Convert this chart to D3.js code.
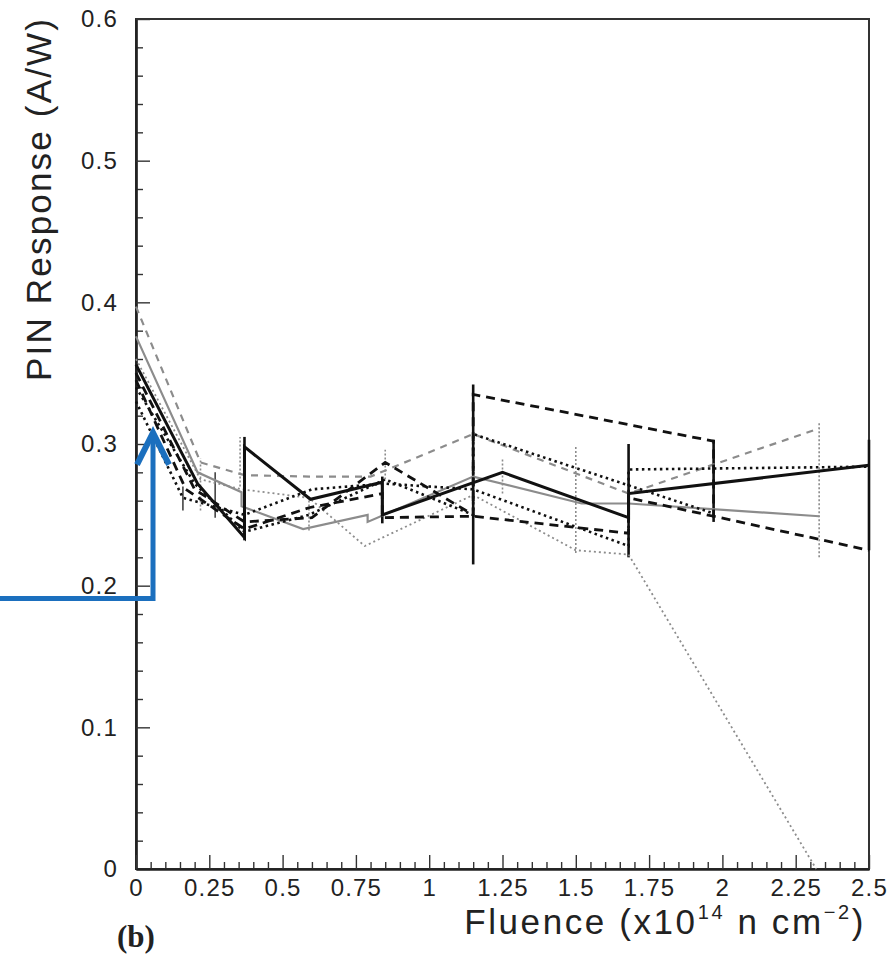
<!DOCTYPE html>
<html>
<head>
<meta charset="utf-8">
<script src="https://cdn.jsdelivr.net/npm/d3@7"></script>
<style>
  html, body { margin: 0; padding: 0; background: #fff; }
  svg { display: block; }
  text { font-family: "Liberation Sans", Arial, sans-serif; fill: #222; }
</style>
</head>
<body>
<svg id="chart" width="892" height="959"></svg>
<script>
// Axis ticks
const xMajorTicks = [0, 0.25, 0.5, 0.75, 1, 1.25, 1.5, 1.75, 2, 2.25, 2.5];
const xTickLabels = ["0", "0.25", "0.5", "0.75", "1", "1.25", "1.5", "1.75", "2", "2.25", "2.5"];
const yMajorTicks = [0, 0.1, 0.2, 0.3, 0.4, 0.5, 0.6];
const yTickLabels = ["0", "0.1", "0.2", "0.3", "0.4", "0.5", "0.6"];

// PIN response (A/W) versus fluence (x10^14 n/cm^2), one array per diode trace
const solidBlack = [[0,0.356],[0.21,0.272],[0.37,0.234],[0.37,0.298],[0.595,0.261],[0.84,0.273],[0.84,0.25],[1.25,0.28],[1.68,0.248],[1.68,0.265],[2.5,0.285]];
const solidGray  = [[0,0.376],[0.21,0.28],[0.36,0.266],[0.36,0.256],[0.57,0.24],[0.79,0.25],[0.79,0.245],[1.15,0.277],[1.52,0.258],[1.68,0.258],[2.33,0.249]];
const dashGray   = [[0,0.397],[0.22,0.287],[0.37,0.278],[0.59,0.277],[0.8,0.277],[1.15,0.307],[1.68,0.265],[2.33,0.311]];
const dashBlackA = [[0,0.35],[0.2,0.268],[0.37,0.245],[0.6,0.248],[0.85,0.287],[1.15,0.25],[1.15,0.335],[1.97,0.302],[1.97,0.249],[2.5,0.225]];
const dashBlackB = [[0,0.345],[0.17,0.268],[0.37,0.24],[0.59,0.255],[0.84,0.265],[0.84,0.248],[1.15,0.249],[1.68,0.237],[1.68,0.262],[1.97,0.249]];
const dotBlackA  = [[0,0.34],[0.2,0.272],[0.37,0.238],[0.59,0.25],[0.85,0.275],[1.15,0.25],[1.15,0.307],[1.97,0.251]];
const dotBlackB  = [[0,0.33],[0.16,0.262],[0.37,0.25],[0.6,0.268],[0.85,0.272],[1.15,0.268],[1.68,0.228],[1.68,0.282],[2.5,0.284]];
const dotGray    = [[0,0.36],[0.22,0.275],[0.36,0.268],[0.59,0.262],[0.78,0.228],[1.15,0.264],[1.5,0.225],[1.68,0.222],[2.32,0]];

// Error bars: [fluence, low, high]
const errorBarsBlack = [[0.37,0.232,0.305],[0.84,0.244,0.277],[1.15,0.215,0.342],[1.68,0.22,0.3],[1.97,0.245,0.303],[2.5,0.225,0.303]];
const errorBarsThin  = [[0.16,0.253,0.27],[0.27,0.248,0.28]];
const errorBarsGray  = [[0.22,0.253,0.29],[0.355,0.27,0.305],[0.59,0.239,0.263],[0.85,0.275,0.296],[1.25,0.265,0.29],[1.5,0.223,0.298],[2.33,0.22,0.316]];

// Annotation arrow: corner point and tip (data units), tail runs to the page edge
const arrowCorner = [0.058, 0.191];
const arrowTip = [0.058, 0.308];

const svg = d3.select("#chart");
const plotLeft = 136, plotRight = 869, plotTop = 19, plotBottom = 869;
const x = d3.scaleLinear().domain([0, 2.5]).range([plotLeft, plotRight]);
const y = d3.scaleLinear().domain([0, 0.6]).range([plotBottom, plotTop]);

const styles = [
  { data: dotGray,    stroke: "#8c8c8c", width: 1.8, dash: "2,3" },
  { data: solidGray,  stroke: "#8c8c8c", width: 2.2, dash: null },
  { data: dashGray,   stroke: "#8c8c8c", width: 2.2, dash: "7,6" },
  { data: dotBlackB,  stroke: "#111",    width: 2.6, dash: "2.5,3.5" },
  { data: dotBlackA,  stroke: "#111",    width: 2.6, dash: "2.5,3.5" },
  { data: dashBlackB, stroke: "#111",    width: 2.8, dash: "9,6" },
  { data: dashBlackA, stroke: "#111",    width: 2.8, dash: "9,6" },
  { data: solidBlack, stroke: "#111",    width: 3,   dash: null }
];

// Frame
svg.append("rect")
  .attr("x", plotLeft).attr("y", plotTop)
  .attr("width", plotRight - plotLeft).attr("height", plotBottom - plotTop)
  .attr("fill", "none").attr("stroke", "#333").attr("stroke-width", 2);

// Left axis: major ticks with labels, minor ticks every 0.02
const yMinor = d3.range(0, 0.6001, 0.02).filter(v => Math.abs(v * 10 - Math.round(v * 10)) > 1e-6);
const gyMinor = svg.append("g").attr("transform", `translate(${plotLeft},0)`)
  .call(d3.axisLeft(y).tickValues(yMinor).tickSize(-7).tickSizeOuter(0).tickFormat(""));
const gy = svg.append("g").attr("transform", `translate(${plotLeft},0)`)
  .call(d3.axisLeft(y).tickValues(yMajorTicks).tickSize(-14).tickSizeOuter(0).tickPadding(18)
    .tickFormat((d, i) => yTickLabels[i]));

// Bottom axis: major ticks every 0.25, minor every 0.05
const xMinor = d3.range(0, 2.5001, 0.05).filter(v => Math.abs(v * 4 - Math.round(v * 4)) > 1e-6);
const gxMinor = svg.append("g").attr("transform", `translate(0,${plotBottom})`)
  .call(d3.axisBottom(x).tickValues(xMinor).tickSize(-7).tickSizeOuter(0).tickFormat(""));
const gx = svg.append("g").attr("transform", `translate(0,${plotBottom})`)
  .call(d3.axisBottom(x).tickValues(xMajorTicks).tickSize(-14).tickSizeOuter(0).tickPadding(10)
    .tickFormat((d, i) => xTickLabels[i]));

[gy, gx, gyMinor, gxMinor].forEach(g => {
  g.select(".domain").attr("stroke", "#222").attr("stroke-width", 2.2);
  g.selectAll(".tick line").attr("stroke", "#333").attr("stroke-width", 1.4);
  g.selectAll(".tick text")
    .style("font-family", "'Liberation Sans', Arial, sans-serif")
    .style("font-size", "24px").style("letter-spacing", "1.2px").attr("fill", "#333");
});

// Error bars
svg.append("g").selectAll("line").data(errorBarsGray).join("line")
  .attr("x1", d => x(d[0])).attr("x2", d => x(d[0]))
  .attr("y1", d => y(d[1])).attr("y2", d => y(d[2]))
  .attr("stroke", "#8c8c8c").attr("stroke-width", 1.6).attr("stroke-dasharray", "2,2");
svg.append("g").selectAll("line").data(errorBarsThin).join("line")
  .attr("x1", d => x(d[0])).attr("x2", d => x(d[0]))
  .attr("y1", d => y(d[1])).attr("y2", d => y(d[2]))
  .attr("stroke", "#444").attr("stroke-width", 1.6);
svg.append("g").selectAll("line").data(errorBarsBlack).join("line")
  .attr("x1", d => x(d[0])).attr("x2", d => x(d[0]))
  .attr("y1", d => y(d[1])).attr("y2", d => y(d[2]))
  .attr("stroke", "#111").attr("stroke-width", 2.6);

// Traces
const line = d3.line().x(d => x(d[0])).y(d => y(d[1]));
svg.append("g").selectAll("path").data(styles).join("path")
  .attr("d", s => line(s.data))
  .attr("fill", "none")
  .attr("stroke", s => s.stroke)
  .attr("stroke-width", s => s.width)
  .attr("stroke-dasharray", s => s.dash)
  .attr("stroke-linejoin", "miter");

// Axis titles
svg.append("text")
  .attr("transform", `translate(51,200) rotate(-90)`)
  .attr("text-anchor", "middle")
  .attr("textLength", 362).attr("lengthAdjust", "spacing")
  .style("font-size", "35px").attr("fill", "#3c3c3c")
  .text("PIN Response (A/W)");

const xt = svg.append("text")
  .attr("x", 866).attr("y", 934)
  .attr("text-anchor", "end")
  .style("font-size", "35px").style("letter-spacing", "2.6px").attr("fill", "#3c3c3c");
xt.append("tspan").text("Fluence (x10");
xt.append("tspan").attr("dy", -15).style("font-size", "20px").text("14");
xt.append("tspan").attr("dy", 15).text(" n cm");
xt.append("tspan").attr("dy", -15).style("font-size", "20px").text("\u22122");
xt.append("tspan").attr("dy", 15).text(")");

svg.append("text")
  .attr("x", 117).attr("y", 947)
  .style("font-family", "'Liberation Serif', 'Times New Roman', serif")
  .style("font-size", "31px").style("font-weight", "bold").attr("fill", "#222")
  .text("(b)");

// Annotation arrow
const ax = x(arrowCorner[0]), ay = y(arrowCorner[1]), ty = y(arrowTip[1]);
svg.append("path")
  .attr("d", `M0,${ay} H${ax} V${ty + 2}`)
  .attr("fill", "none").attr("stroke", "#1b6fbe").attr("stroke-width", 5);
svg.append("path")
  .attr("d", `M${ax - 16},${ty + 32} L${ax},${ty} L${ax + 16},${ty + 32}`)
  .attr("fill", "none").attr("stroke", "#1b6fbe").attr("stroke-width", 6)
  .attr("stroke-linejoin", "miter");
</script>
</body>
</html>
